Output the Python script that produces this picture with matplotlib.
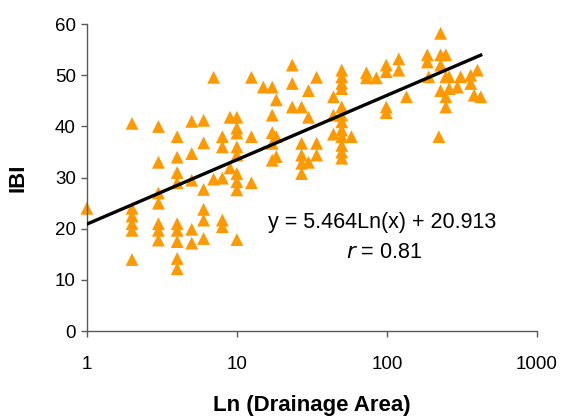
import numpy as np
import matplotlib
matplotlib.use("Agg")
import matplotlib.pyplot as plt
from matplotlib.ticker import FixedLocator, NullLocator

plt.rcParams['font.family'] = ['Liberation Sans', 'DejaVu Sans']

# drainage area (sq mi) and IBI score for each site, grouped by area
area = [1,
        2, 2, 2, 2, 2, 2,
        3, 3, 3, 3, 3, 3, 3,
        4, 4, 4, 4, 4, 4, 4, 4, 4,
        5, 5, 5, 5, 5,
        6, 6, 6, 6, 6, 6,
        7, 7,
        8, 8, 8, 8, 8,
        9, 9,
        10, 10, 10, 10, 10, 10, 10, 10, 10,
        12.5, 12.5, 12.5,
        15,
        17.2, 17.2, 17.2, 17.2, 17.2,
        18.3, 18.3, 18.3,
        23.4, 23.4, 23.4,
        27, 27, 27, 27, 27,
        30, 30, 30,
        34, 34, 34,
        44, 44, 44,
        50, 50, 50, 50, 50, 50, 50, 50, 50, 50, 50, 50,
        58,
        73, 73,
        85,
        99, 99, 99, 99,
        120, 120,
        135,
        186, 186,
        190,
        222,
        228, 228, 228, 228,
        247, 247, 247, 247,
        260, 260,
        295,
        310,
        362, 362,
        381,
        401,
        422]

ibi = [24,
       40.6, 24, 22.5, 21, 19.7, 14,
       40, 33, 27, 25, 21, 19.7, 17.8,
       38, 34, 31, 29, 21, 19.7, 17.5, 14.2, 12.2,
       41, 34.7, 29.5, 19.9, 17.2,
       41.2, 36.8, 27.7, 23.8, 21.7, 18.1,
       49.6, 29.7,
       38, 36, 29.9, 21.7, 20.4,
       41.8, 31.9,
       41.8, 39.7, 38.7, 36, 34.4, 30.8, 29.2, 27.6, 17.9,
       49.6, 38, 29,
       47.7,
       47.7, 42.2, 38.8, 36.7, 33.4,
       45.2, 38, 34.1,
       52, 48.4, 43.8,
       43.8, 36.7, 34.4, 32.8, 30.8,
       47, 41.8, 33,
       49.6, 36.7, 34.4,
       45.8, 42.2, 38.5,
       51, 49.7, 48.4, 47.4, 43.8, 42.2, 40.9, 39.3, 38, 36.3, 35, 33.8,
       38,
       50.5, 49.5,
       49.5,
       52, 50.7, 43.8, 42.7,
       53.2, 51,
       45.8,
       54, 52.6,
       49.7,
       38,
       58.2, 54, 52, 47,
       54, 49.7, 45.8, 43.8,
       49.7, 47.4,
       47.7,
       49.7,
       50, 48.4,
       46.1,
       51,
       45.8]

# logarithmic fit reported on the chart
slope = 5.464
intercept = 20.913
r_value = 0.81

x_ticks = [1, 10, 100, 1000]
y_ticks = [0, 10, 20, 30, 40, 50, 60]

fig = plt.figure(figsize=(5.64, 4.16), dpi=100)
ax = fig.add_axes([0.154, 0.204, 0.798, 0.738])

ax.scatter(area, ibi, marker='^', s=85, color='#FF9900', edgecolors='none',
           zorder=2, clip_on=False)

fit_x = np.unique(area)
fit_y = slope * np.log(fit_x) + intercept
ax.plot(fit_x, fit_y, color='black', linewidth=2.4, zorder=3)

ax.set_xscale('log')
ax.set_xlim(1, 1000)
ax.set_ylim(0, 60)
ax.xaxis.set_major_locator(FixedLocator(x_ticks))
ax.xaxis.set_minor_locator(NullLocator())
ax.set_xticklabels([str(t) for t in x_ticks])
ax.set_yticks(y_ticks)

for side in ['top', 'right']:
    ax.spines[side].set_visible(False)
for side in ['left', 'bottom']:
    ax.spines[side].set_color('#5a5a5a')
    ax.spines[side].set_linewidth(1.0)

ax.tick_params(axis='both', direction='out', length=4, width=1.0,
               color='#5a5a5a', labelsize=13.5)
ax.tick_params(axis='x', pad=14)
ax.tick_params(axis='y', pad=4)

ax.set_xlabel('Ln (Drainage Area)', fontsize=16, fontweight='bold', labelpad=16)
ax.set_ylabel('IBI', fontsize=16, fontweight='bold', labelpad=19)

ax.text(0.655, 0.355, f'y = {slope}Ln(x) + {intercept}', transform=ax.transAxes,
        ha='center', va='center', fontsize=15.5)
ax.text(0.66, 0.257, f'$\\it{{r}}$ = {r_value}', transform=ax.transAxes,
        ha='center', va='center', fontsize=15.5)

fig.savefig('out.png', dpi=100)
